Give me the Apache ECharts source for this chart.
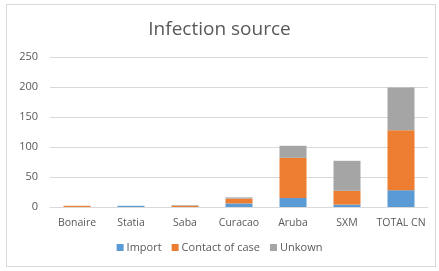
<!DOCTYPE html>
<html lang="en">
<head>
    <meta charset="UTF-8">
    <title>Infection source</title>
    <script src="https://cdn.jsdelivr.net/npm/echarts@6/dist/echarts.min.js"></script>
    <style>
        html, body { margin: 0; padding: 0; background: #fff; }
        #box { position: absolute; left: 6px; top: 4px; width: 430px; height: 263px; border: 1px solid #d9d9d9; box-sizing: border-box; }
        #main { width: 439px; height: 271px; }
    </style>
</head>
<body>
    <div id="box"></div>
    <div id="main"></div>
    <script>
    // data
    var categories = ['Bonaire', 'Statia', 'Saba', 'Curacao', 'Aruba', 'SXM', 'TOTAL CN'];
    var importCases = [0, 2, 0, 6, 15, 4, 28];
    var contactCases = [2, 0, 2, 8, 67, 23, 100];
    var unknownCases = [0, 0, 1, 2, 20, 50, 71];
    var yTicks = [0, 50, 100, 150, 200, 250];

    var myChart = echarts.init(document.getElementById('main'));

    var labelColor = '#595959';
    var font = 'Open Sans';

    function bar(name, data, color) {
        return {
            name: name,
            type: 'bar',
            stack: 'all',
            barWidth: '50%',
            itemStyle: { color: color },
            data: data
        };
    }

    var option = {
        animation: false,
        title: {
            text: 'Infection source',
            left: 'center',
            top: 15,
            textStyle: { fontFamily: font, fontSize: 19, fontWeight: 'normal', color: labelColor }
        },
        legend: {
            data: ['Import', 'Contact of case', 'Unkown'],
            bottom: 13,
            left: 'center',
            icon: 'rect',
            itemWidth: 7,
            itemHeight: 7,
            itemGap: 10,
            textStyle: { fontFamily: font, fontSize: 11, color: labelColor, padding: [0, 0, 0, -2] }
        },
        grid: { left: 50, right: 11, top: 57, bottom: 64 },
        xAxis: {
            type: 'category',
            data: categories,
            axisTick: { show: false },
            axisLine: { lineStyle: { color: '#d9d9d9' } },
            axisLabel: { interval: 0, fontFamily: font, fontSize: 10.5, color: labelColor, margin: 11 }
        },
        yAxis: {
            type: 'value',
            min: yTicks[0],
            max: yTicks[yTicks.length - 1],
            interval: 50,
            axisLine: { show: false },
            axisTick: { show: false },
            splitLine: { lineStyle: { color: '#d9d9d9' } },
            axisLabel: { fontFamily: font, fontSize: 11, color: labelColor, margin: 12 }
        },
        series: [
            bar('Import', importCases, '#5B9BD5'),
            bar('Contact of case', contactCases, '#ED7D31'),
            bar('Unkown', unknownCases, '#A5A5A5')
        ]
    };

    myChart.setOption(option);
    </script>
</body>
</html>
